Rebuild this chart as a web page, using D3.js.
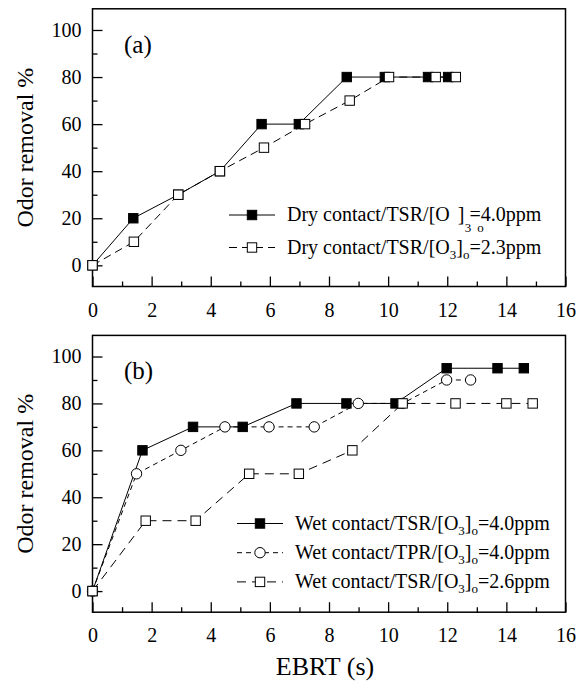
<!DOCTYPE html>
<html>
<head>
<meta charset="utf-8">
<script src="https://cdn.jsdelivr.net/npm/d3@7"></script>
<style>
  body { margin: 0; background: #fff; }
  svg text { font-family: "Liberation Serif", "Times New Roman", serif; }
</style>
</head>
<body>
<svg width="586" height="682"></svg>
<script>
// axis ticks
const xTicks = [0, 2, 4, 6, 8, 10, 12, 14, 16];
const xMinor = [1, 3, 5, 7, 9, 11, 13, 15];
const yTicks = [0, 20, 40, 60, 80, 100];
const yMinor = [10, 30, 50, 70, 90];

// panel (a): [EBRT s, odor removal %]
const dryTsr40 = [[0,0],[1.38,20],[2.9,30],[4.31,40],[5.72,60],[6.98,60],[8.6,80],[9.89,80],[11.35,80],[12.03,80]];
const dryTsr23 = [[0,0],[1.4,10],[2.9,30],[4.31,40],[5.8,50],[7.19,60],[8.7,70],[10.03,80],[11.61,80],[12.29,80]];

// panel (b)
const wetTsr40 = [[0,0],[1.69,60],[3.4,70],[5.08,70],[6.9,80],[8.59,80],[10.25,80],[11.98,95],[13.7,95],[14.59,95]];
const wetTpr40 = [[0,0],[1.49,50],[2.99,60],[4.48,70],[5.97,70],[7.5,70],[8.99,80],[10.49,80],[11.98,90],[12.79,90]];
const wetTsr26 = [[0,0],[1.8,30],[3.49,30],[5.3,50],[6.98,50],[8.79,60],[10.49,80],[12.28,80],[14.0,80],[14.89,80]];

const svg = d3.select("svg");
const serif = "'Liberation Serif', 'Times New Roman', serif";

const left = 92.5, right = 565.5;
const x = d3.scaleLinear().domain([0, 16]).range([left, right]);

function panel(top, bottom, label, series, legendItems, legendTop, legendRowH, legendX) {
    const y = d3.scaleLinear().domain([-9, 109]).range([bottom, top]);
    const g = svg.append("g");

    // frame
    g.append("rect")
        .attr("x", left).attr("y", top)
        .attr("width", right - left).attr("height", bottom - top)
        .attr("fill", "none").attr("stroke", "#000").attr("stroke-width", 1.5);

    // X ticks (inward)
    const xAxis = d3.axisBottom(x).tickValues(xTicks).tickSizeInner(-10).tickSizeOuter(0).tickPadding(16);
    const gx = g.append("g").attr("transform", `translate(0, ${bottom})`).call(xAxis)
        .attr("font-family", null).attr("font-size", null);
    gx.select(".domain").remove();
    gx.selectAll("text").style("font-size", "20px").style("font-family", serif);
    g.append("g").attr("transform", `translate(0, ${bottom})`)
        .call(d3.axisBottom(x).tickValues(xMinor).tickSizeInner(-5).tickSizeOuter(0).tickFormat(""))
        .select(".domain").remove();

    // Y ticks (inward)
    const yAxis = d3.axisLeft(y).tickValues(yTicks).tickSizeInner(-10).tickSizeOuter(0).tickPadding(11);
    const gy = g.append("g").attr("transform", `translate(${left}, 0)`).call(yAxis)
        .attr("font-family", null).attr("font-size", null);
    gy.select(".domain").remove();
    gy.selectAll("text").style("font-size", "20px").style("font-family", serif);
    g.append("g").attr("transform", `translate(${left}, 0)`)
        .call(d3.axisLeft(y).tickValues(yMinor).tickSizeInner(-5).tickSizeOuter(0).tickFormat(""))
        .select(".domain").remove();
    g.selectAll(".tick line").attr("stroke-width", 1.3);

    // Y label
    g.append("text")
        .attr("transform", `translate(33, ${(top + bottom) / 2}) rotate(-90)`)
        .style("font-size", "24px")
        .attr("text-anchor", "middle")
        .text("Odor removal %");

    // panel label
    g.append("text")
        .attr("x", 124).attr("y", top + 44)
        .style("font-size", "25px")
        .text(label);

    const line = d3.line().x(d => x(d[0])).y(d => y(d[1]));

    series.forEach(s => {
        g.append("path")
            .datum(s.data)
            .attr("d", line)
            .attr("fill", "none")
            .attr("stroke", "#000")
            .attr("stroke-width", 1)
            .attr("stroke-dasharray", s.dash);
    });
    series.forEach(s => drawMarkers(g, s.data.map(d => [x(d[0]), y(d[1])]), s.marker));

    // legend
    legendItems.forEach((item, i) => {
        const ly = legendTop + i * legendRowH;
        const s = series[item.idx];
        g.append("line")
            .attr("x1", legendX).attr("x2", legendX + 46)
            .attr("y1", ly).attr("y2", ly)
            .attr("stroke", "#000").attr("stroke-width", 1)
            .attr("stroke-dasharray", s.dash);
        drawMarkers(g, [[legendX + 23, ly]], s.marker);
        item.draw(g, legendX + 58, ly + 6);
    });
}

function drawMarkers(g, pts, kind) {
    if (kind === "circle") {
        g.selectAll(null).data(pts).enter().append("circle")
            .attr("cx", d => d[0]).attr("cy", d => d[1])
            .attr("r", 5.2)
            .attr("fill", "#fff").attr("stroke", "#000").attr("stroke-width", 1);
    } else {
        const sz = 9.4;
        g.selectAll(null).data(pts).enter().append("rect")
            .attr("x", d => d[0] - sz / 2).attr("y", d => d[1] - sz / 2)
            .attr("width", sz).attr("height", sz)
            .attr("fill", kind === "filled" ? "#000" : "#fff")
            .attr("stroke", "#000").attr("stroke-width", 1);
    }
}

// legend label with O3 and o subscripts
function subLabel(prefix, suffix) {
    return (g, tx, ty) => {
        const t = g.append("text").attr("x", tx).attr("y", ty).style("font-size", "20px");
        t.append("tspan").text(prefix + "[O");
        t.append("tspan").style("font-size", "13px").attr("dy", 5).text("3");
        t.append("tspan").attr("dy", -5).text("]");
        t.append("tspan").style("font-size", "13px").attr("dy", 5).text("o");
        t.append("tspan").attr("dy", -5).text(suffix);
    };
}

// the first legend row of (a) has its subscripts set off below the line
function oddLabel(prefix, suffix) {
    return (g, tx, ty) => {
        const t = g.append("text").attr("x", tx).attr("y", ty).style("font-size", "20px");
        t.append("tspan").text(prefix + "[O");
        const br = t.append("tspan").attr("dx", 8).text("]");
        t.append("tspan").attr("dx", 5).text(suffix);
        const bx = br.node().getStartPositionOfChar(0).x;
        t.append("tspan").attr("x", bx + 7).attr("dy", 11).style("font-size", "13px").text("3");
        t.append("tspan").attr("dx", 6).style("font-size", "13px").text("o");
    };
}

panel(8.8, 286.5, "(a)",
    [
        {data: dryTsr40, marker: "filled", dash: null},
        {data: dryTsr23, marker: "open", dash: "8,5"}
    ],
    [
        {idx: 0, draw: oddLabel("Dry contact/TSR/", "=4.0ppm")},
        {idx: 1, draw: subLabel("Dry contact/TSR/", "=2.3ppm")}
    ],
    215, 32.5, 229);

panel(335.4, 612.2, "(b)",
    [
        {data: wetTsr40, marker: "filled", dash: null},
        {data: wetTpr40, marker: "circle", dash: "5,4"},
        {data: wetTsr26, marker: "open", dash: "9,6"}
    ],
    [
        {idx: 0, draw: subLabel("Wet contact/TSR/", "=4.0ppm")},
        {idx: 1, draw: subLabel("Wet contact/TPR/", "=4.0ppm")},
        {idx: 2, draw: subLabel("Wet contact/TSR/", "=2.6ppm")}
    ],
    523.5, 29.2, 237);

// X label
svg.append("text")
    .attr("x", (left + right) / 2 - 4)
    .attr("y", 675)
    .style("font-size", "26px")
    .attr("text-anchor", "middle")
    .text("EBRT (s)");
</script>
</body>
</html>
